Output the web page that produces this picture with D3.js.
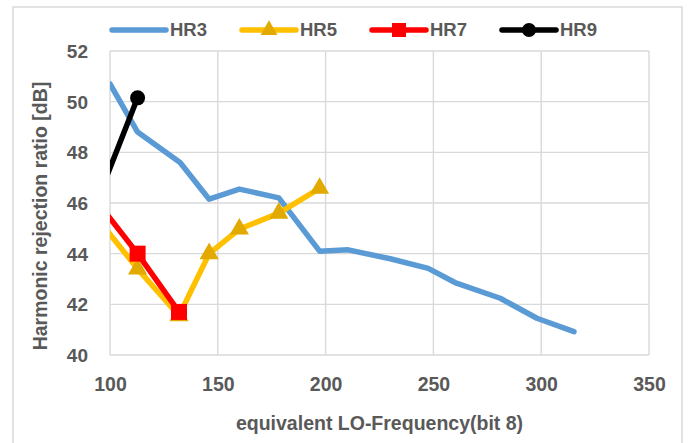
<!DOCTYPE html>
<html><head><meta charset="utf-8">
<script src="https://cdn.jsdelivr.net/npm/d3@7"></script>
<style>
html,body{margin:0;padding:0;background:#fff;}
text{font-family:"Liberation Sans",Arial,sans-serif;font-weight:bold;fill:#595959;}
</style></head>
<body><svg id="c" width="688" height="443"></svg>
<script>
// ---- data ----
const seriesNames = ["HR3","HR5","HR7","HR9"];
const hr3X = [100,112.8,132.5,146,160,178.3,197.2,210.5,230,247.6,260,281,298,315.2];
const hr3Y = [50.7,48.8,47.6,46.15,46.55,46.2,44.1,44.15,43.8,43.42,42.86,42.24,41.45,40.92];
const hr5X = [95,112.8,132,146,160,178.3,197.2];
const hr5Y = [45.3,43.4,41.55,44.0,44.97,45.6,46.58];
const hr7X = [95,112.8,132];
const hr7Y = [45.95,44.0,41.7];
const hr9X = [95,112.8];
const hr9Y = [46.3,50.15];
const xTicks = [100,150,200,250,300,350];
const yTicks = [40,42,44,46,48,50,52];
const xTitle = "equivalent LO-Frequency(bit 8)";
const yTitle = "Harmonic rejection ratio [dB]";

const svg = d3.select("#c");
const plot = {l:110, r:649, t:51, b:355};
const x = d3.scaleLinear().domain([100,350]).range([plot.l, plot.r]);
const y = d3.scaleLinear().domain([40,52]).range([plot.b, plot.t]);
const grid = "#D9D9D9";

// outer chart border
svg.append("rect").attr("x",13).attr("y",7).attr("width",669).attr("height",460)
  .attr("fill","#fff").attr("stroke",grid).attr("stroke-width",1.5);

// gridlines
const g = svg.append("g");
g.selectAll(".hg").data(yTicks).join("line")
  .attr("x1",plot.l).attr("x2",plot.r).attr("y1",d=>y(d)).attr("y2",d=>y(d))
  .attr("stroke",grid).attr("stroke-width",1.4);
g.selectAll(".vg").data(xTicks).join("line")
  .attr("y1",plot.t).attr("y2",plot.b).attr("x1",d=>x(d)).attr("x2",d=>x(d))
  .attr("stroke",grid).attr("stroke-width",1.4);

// axes labels via d3 axes
const yAxis = svg.append("g").attr("transform",`translate(${plot.l-22},0)`)
  .call(d3.axisLeft(y).tickValues(yTicks).tickSize(0).tickPadding(0).tickFormat(d3.format("d")));
yAxis.select(".domain").remove();
yAxis.selectAll("text").style("font-size","19px").attr("dy","0.35em");

const xAxis = svg.append("g").attr("transform",`translate(0,${plot.b+22})`)
  .call(d3.axisBottom(x).tickValues(xTicks).tickSize(0).tickPadding(0).tickFormat(d3.format("d")));
xAxis.select(".domain").remove();
xAxis.selectAll("text").style("font-size","19.5px").attr("dy","0.71em");

svg.append("text").attr("x",(plot.l+plot.r)/2).attr("y",430).attr("text-anchor","middle")
  .style("font-size","19.5px").text(xTitle);
svg.append("text").attr("transform",`translate(47,${(plot.t+plot.b)/2+13}) rotate(-90)`)
  .attr("text-anchor","middle").style("font-size","19.5px").text(yTitle);

// clip
svg.append("clipPath").attr("id","pc").append("rect")
  .attr("x",plot.l).attr("y",plot.t-20).attr("width",plot.r-plot.l+20).attr("height",plot.b-plot.t+20);

const series = [
  {name:seriesNames[0], xs:hr3X, ys:hr3Y, color:"#5B9BD5", marker:null},
  {name:seriesNames[1], xs:hr5X, ys:hr5Y, color:"#FFC000", marker:"tri", mcolor:"#E2A900"},
  {name:seriesNames[2], xs:hr7X, ys:hr7Y, color:"#FF0000", marker:"sq", mcolor:"#FF0000"},
  {name:seriesNames[3], xs:hr9X, ys:hr9Y, color:"#000000", marker:"circ", mcolor:"#000000"}
];
const line = d3.line().x(d=>x(d[0])).y(d=>y(d[1]));
const plotG = svg.append("g").attr("clip-path","url(#pc)");

function drawMarker(sel, type, color, cx, cy, s){
  if(type==="tri"){
    const sym = d3.symbol().type(d3.symbolTriangle).size(s*s*0.55);
    sel.append("path").attr("d",sym()).attr("transform",`translate(${cx},${cy})`).attr("fill",color);
  } else if(type==="sq"){
    sel.append("rect").attr("x",cx-s/2).attr("y",cy-s/2).attr("width",s).attr("height",s).attr("fill",color);
  } else if(type==="circ"){
    sel.append("circle").attr("cx",cx).attr("cy",cy).attr("r",s/2).attr("fill",color);
  }
}

series.forEach(s=>{
  const pts = s.xs.map((v,i)=>[v,s.ys[i]]);
  plotG.append("path").datum(pts).attr("d",line).attr("fill","none")
    .attr("stroke",s.color).attr("stroke-width",5.5)
    .attr("stroke-linejoin","round").attr("stroke-linecap","round");
  if(s.marker){
    pts.forEach(p=>{
      if(p[0]>=100) drawMarker(plotG, s.marker, s.mcolor, x(p[0]), y(p[1]), s.marker==="sq"?16:(s.marker==="tri"?17:15));
    });
  }
});

// legend
const legX = [112,242,372,502];
const legY = 30;
series.forEach((s,i)=>{
  const lg = svg.append("g");
  lg.append("line").attr("x1",legX[i]).attr("x2",legX[i]+54).attr("y1",legY).attr("y2",legY)
    .attr("stroke",s.color).attr("stroke-width",5.5).attr("stroke-linecap","round");
  if(s.marker) drawMarker(lg, s.marker, s.mcolor, legX[i]+27, legY, s.marker==="sq"?14:(s.marker==="tri"?15:14));
  lg.append("text").attr("x",legX[i]+58).attr("y",legY).attr("dy","0.35em")
    .style("font-size","18.5px").text(s.name);
});
</script></body></html>
